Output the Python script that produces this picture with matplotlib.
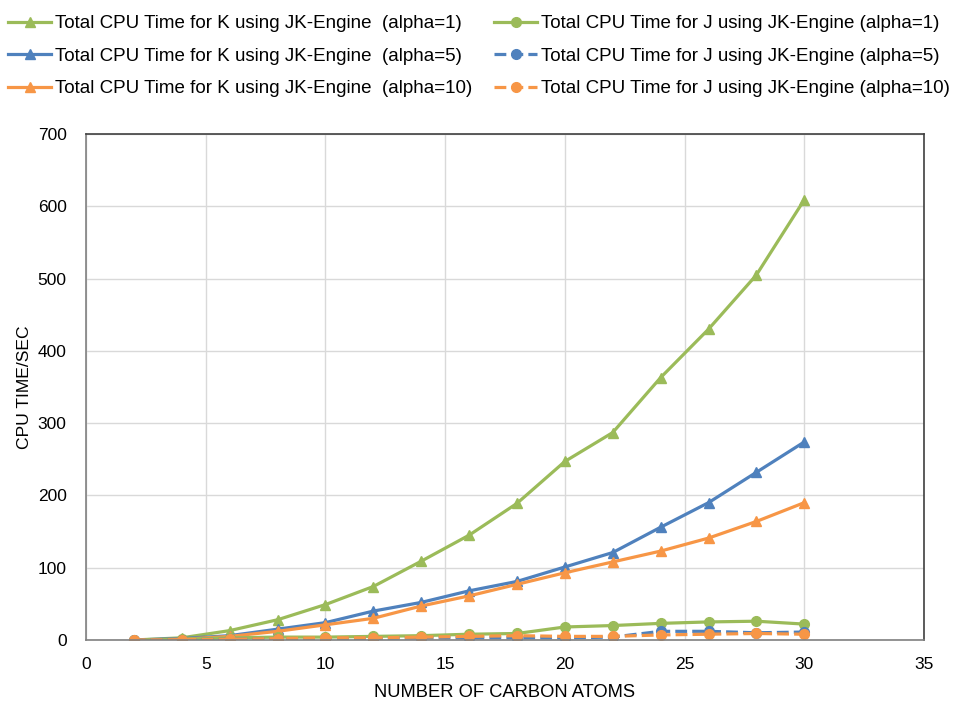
import matplotlib
matplotlib.use("Agg")
import matplotlib.pyplot as plt

plt.rcParams['font.family'] = ['Liberation Sans', 'DejaVu Sans']

carbon_atoms = [2, 4, 6, 8, 10, 12, 14, 16, 18, 20, 22, 24, 26, 28, 30]

k_alpha1 = [0, 3, 13, 28, 49, 74, 109, 145, 189, 247, 287, 363, 430, 505, 609]
k_alpha5 = [0, 2, 6, 15, 24, 40, 52, 68, 81, 101, 121, 156, 190, 232, 274]
k_alpha10 = [0, 1, 5, 12, 21, 30, 47, 61, 77, 93, 108, 123, 141, 164, 190]
j_alpha1 = [0, 1, 3, 4, 4, 5, 6, 8, 9, 18, 20, 23, 25, 26, 22]
j_alpha5 = [0, 0.5, 1, 1.5, 2, 2, 3, 3, 3, 3, 4, 12, 12, 10, 11]
j_alpha10 = [0, 0.5, 1, 2, 3, 3, 4, 5, 6, 5, 5, 7, 8, 9, 8]

labels = [
    "Total CPU Time for K using JK-Engine  (alpha=1)",
    "Total CPU Time for K using JK-Engine  (alpha=5)",
    "Total CPU Time for K using JK-Engine  (alpha=10)",
    "Total CPU Time for J using JK-Engine (alpha=1)",
    "Total CPU Time for J using JK-Engine (alpha=5)",
    "Total CPU Time for J using JK-Engine (alpha=10)",
]

green = "#9BBB59"
blue = "#4F81BD"
orange = "#F79646"

W, H = 956, 702
fig = plt.figure(figsize=(W / 100, H / 100), dpi=100)
ax = fig.add_axes([86 / W, 62 / H, 838 / W, 506 / H])

lw = 2.3
ms = 7
series = [
    (k_alpha1, green, "^", "-"),
    (k_alpha5, blue, "^", "-"),
    (k_alpha10, orange, "^", "-"),
    (j_alpha1, green, "o", "-"),
    (j_alpha5, blue, "o", "--"),
    (j_alpha10, orange, "o", "--"),
]
handles = []
for (vals, col, mk, ls), lab in zip(series, labels):
    h, = ax.plot(carbon_atoms, vals, color=col, marker=mk, linestyle=ls,
                 linewidth=lw, markersize=ms, label=lab)
    handles.append(h)

ax.set_xlim(0, 35)
ax.set_ylim(0, 700)
ax.set_xticks(range(0, 36, 5))
ax.set_yticks(range(0, 701, 100))
ax.grid(True, color="#D9D9D9", linewidth=1)
ax.set_axisbelow(True)
for s in ax.spines.values():
    s.set_color("#404040")
    s.set_linewidth(1.2)
ax.spines['left'].set_color("#808080")
ax.spines['bottom'].set_color("#808080")
ax.tick_params(length=0, labelsize=12.5, colors="black")
ax.tick_params(axis='y', pad=14)
ax.tick_params(axis='x', pad=12)

ax.set_xlabel("NUMBER OF CARBON ATOMS", fontsize=13.2, labelpad=9)
ax.set_ylabel("CPU TIME/SEC", fontsize=12.6, labelpad=4)

# two legend columns, placed independently
leg_kw = dict(loc="upper left", ncol=1, frameon=False, fontsize=13.5,
              handlelength=2.3, handletextpad=0.2, labelspacing=0.82,
              borderpad=0, borderaxespad=0)
fig.legend(handles=handles[:3], labels=labels[:3],
           bbox_to_anchor=(8 / W, 1 - 15 / H), **leg_kw)
fig.legend(handles=handles[3:], labels=labels[3:],
           bbox_to_anchor=(494 / W, 1 - 15 / H), **leg_kw)

fig.savefig("out.png", dpi=100)
